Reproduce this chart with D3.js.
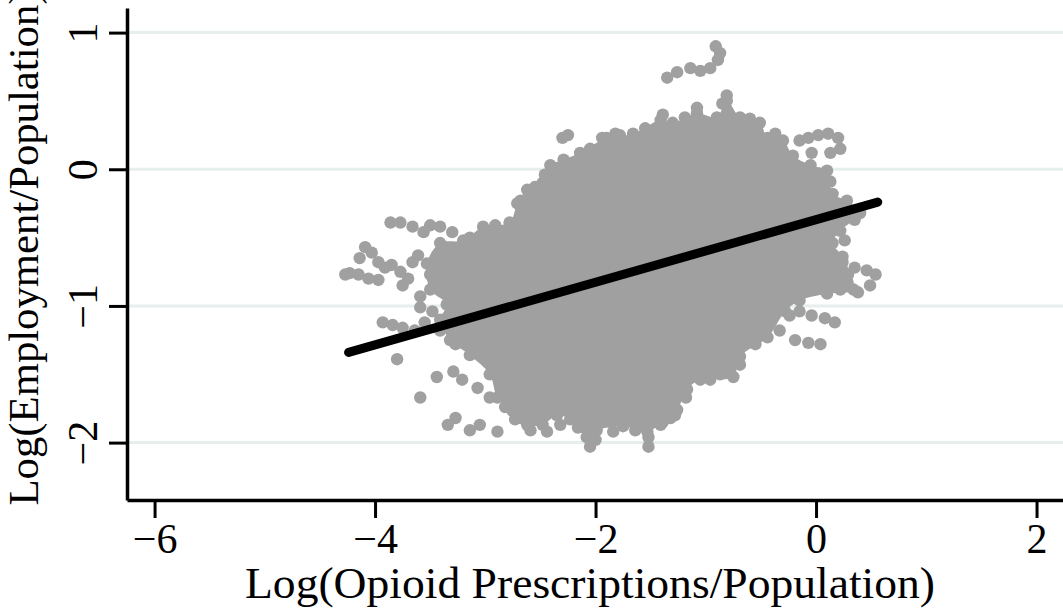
<!DOCTYPE html>
<html>
<head>
<meta charset="utf-8">
<script src="https://cdn.jsdelivr.net/npm/d3@7"></script>
<style>
  html, body { margin: 0; padding: 0; background: #fff; }
  svg { display: block; }
  text { font-family: "Liberation Serif", "DejaVu Serif", serif; fill: #000; }
</style>
</head>
<body>
<svg id="chart" width="1063" height="612"></svg>
<script>
// Log(opioid prescriptions / population) vs log(employment / population)

const xTicks = [-6, -4, -2, 0, 2];
const yTicks = [-2, -1, 0, 1];
const xTitle = "Log(Opioid Prescriptions/Population)";
const yTitle = "Log(Employment/Population)";

// Outline of the dense core of county observations [x, y]
const coreX = [-3.53,-3.41,-3.20,-3.02,-2.78,-2.71,-2.62,-2.48,-2.41,-2.29,-2.14,-1.90,-1.66,-1.41,-1.30,-1.08,-0.90,-0.81,-0.69,-0.51,-0.44,-0.30,-0.21,-0.05,0.10,0.15,0.28,0.40,0.22,0.15,0.24,0.34,0.10,-0.15,-0.28,-0.44,-0.69,-0.75,-1.05,-1.17,-1.26,-1.39,-1.53,-1.75,-1.99,-2.08,-2.23,-2.35,-2.48,-2.62,-2.75,-2.89,-2.96,-3.14,-3.32,-3.41,-3.35,-3.50];
const coreY = [-0.69,-0.54,-0.52,-0.42,-0.39,-0.25,-0.15,-0.10,0.03,0.07,0.12,0.23,0.26,0.36,0.34,0.41,0.38,0.50,0.38,0.34,0.23,0.21,0.10,0.03,-0.01,-0.18,-0.23,-0.32,-0.45,-0.54,-0.64,-0.88,-0.91,-0.96,-1.04,-1.23,-1.37,-1.52,-1.54,-1.61,-1.76,-1.85,-1.92,-1.88,-1.91,-1.96,-1.83,-1.80,-1.87,-1.87,-1.77,-1.67,-1.50,-1.36,-1.25,-1.10,-0.99,-0.88];

// Individual observations around the edges of the cloud
const edgeX = [
  -1.35,-1.26,-1.14,-1.05,-0.96,-0.89,-0.87,-0.91,-2.30,-2.25,
  -1.39,-1.08,-0.81,-0.85,-1.82,-1.94,-2.46,-2.68,
  -3.14,-2.91,-2.55,-2.05,-1.78,-1.55,-1.19,-0.60,-0.37,
  -0.15,-0.07,0.02,0.11,0.20,0.22,0.13,-0.04,
  0.26,0.35,0.13,0.26,0.29,
  0.24,0.35,0.46,0.54,0.49,0.38,0.22,
  -0.24,-0.15,-0.04,0.08,0.17,0.04,-0.07,-0.19,-0.33,
  -0.55,-0.96,-1.32,-2.16,-2.68,
  -0.69,-0.87,-1.18,-1.28,-1.41,-1.52,-1.52,-1.64,-1.84,-2.05,-2.00,
  -2.32,-2.44,-2.59,-2.73,-2.89,-3.05,-3.14,-3.27,-3.34,
  -3.44,-3.29,-3.21,-3.07,-2.96,-2.82,-3.59,-3.80,
  -3.93,-3.84,-3.75,-3.64,-3.55,-3.59,-3.48,-3.41,-3.27,
  -3.86,-3.77,-3.66,-3.56,-3.50,-3.41,-3.30,-4.09,-4.03,-3.97,-3.91,-4.14,-4.23,-4.15,-4.06,-3.97,-4.27,-3.85,-3.77,-3.70,-3.66,-3.75,-3.59,-3.50,-3.61
];
const edgeY = [
  0.67,0.71,0.74,0.72,0.74,0.80,0.85,0.90,0.23,0.25,
  0.40,0.45,0.54,0.48,0.26,0.23,-0.04,-0.23,
  -0.50,-0.41,-0.13,0.15,0.25,0.30,0.38,0.37,0.26,
  0.21,0.23,0.25,0.26,0.23,0.15,0.12,0.12,
  -0.30,-0.37,-0.09,-0.52,-0.77,
  -0.68,-0.72,-0.74,-0.77,-0.85,-0.90,-0.88,
  -1.07,-1.04,-1.07,-1.09,-1.12,-1.28,-1.27,-1.25,-1.18,
  -1.28,-1.54,-1.82,-1.89,-1.82,
  -1.43,-1.50,-1.67,-1.80,-1.87,-1.96,-2.03,-1.91,-1.92,-2.03,-1.98,
  -1.87,-1.92,-1.91,-1.83,-1.92,-1.87,-1.91,-1.82,-1.87,
  -1.52,-1.48,-1.54,-1.60,-1.67,-1.74,-1.67,-1.39,
  -1.12,-1.14,-1.16,-1.18,-1.12,-1.01,-1.04,-1.18,-1.28,
  -0.39,-0.39,-0.42,-0.46,-0.41,-0.42,-0.46,-0.57,-0.61,-0.68,-0.72,-0.65,-0.76,-0.77,-0.80,-0.81,-0.77,-0.70,-0.75,-0.80,-0.68,-0.85,-0.93,-0.77,-0.63
];

// Fitted regression line endpoints
const fitX = [-4.24, 0.56];
const fitY = [-1.34, -0.24];

const svg = d3.select("#chart");

const x = d3.scaleLinear().domain([-6.25, 2.24]).range([127, 1063]);
const y = d3.scaleLinear().domain([-2.42, 1.18]).range([500, 8]);

const gray = "#a0a0a0";

// horizontal grid lines
svg.append("g")
  .selectAll("line")
  .data(yTicks)
  .join("line")
  .attr("x1", x(-6.25)).attr("x2", x(2.24))
  .attr("y1", d => y(d)).attr("y2", d => y(d))
  .attr("stroke", "#e6eeee")
  .attr("stroke-width", 3);

// scatter cloud
const core = coreX.map((v, i) => [v, coreY[i]]);
const edge = edgeX.map((v, i) => [v, edgeY[i]]);

svg.append("path")
  .datum(core)
  .attr("d", d3.line().x(d => x(d[0])).y(d => y(d[1])).curve(d3.curveCatmullRomClosed))
  .attr("fill", gray);

svg.append("g")
  .selectAll("circle")
  .data(core.concat(edge))
  .join("circle")
  .attr("cx", d => x(d[0]))
  .attr("cy", d => y(d[1]))
  .attr("r", 6.2)
  .attr("fill", gray);

// fitted line
svg.append("line")
  .attr("x1", x(fitX[0])).attr("y1", y(fitY[0]))
  .attr("x2", x(fitX[1])).attr("y2", y(fitY[1]))
  .attr("stroke", "#000")
  .attr("stroke-width", 9)
  .attr("stroke-linecap", "round");

// axes
const fmt = d => d3.format("")(d).replace("-", "\u2212");
const xAxis = svg.append("g")
  .attr("transform", `translate(0,${y(-2.42)})`)
  .call(d3.axisBottom(x).tickValues(xTicks).tickSize(18).tickSizeOuter(0).tickFormat(fmt));
const yAxis = svg.append("g")
  .attr("transform", `translate(${x(-6.25)},0)`)
  .call(d3.axisLeft(y).tickValues(yTicks).tickSize(18).tickSizeOuter(0).tickFormat(fmt));

[xAxis, yAxis].forEach(g => {
  g.select(".domain").attr("stroke", "#000").attr("stroke-width", 3.5);
  g.selectAll(".tick line").attr("stroke", "#000").attr("stroke-width", 3);
  g.selectAll(".tick text")
    .attr("font-family", "Liberation Serif, serif")
    .attr("font-size", 42)
    .attr("fill", "#000");
});

xAxis.selectAll(".tick text").attr("y", 23).attr("dy", "0.71em");
yAxis.selectAll(".tick text")
  .attr("x", null).attr("dy", null)
  .attr("text-anchor", "middle")
  .attr("transform", "translate(-30,0) rotate(-90)");

// axis titles
svg.append("text")
  .attr("x", 590).attr("y", 598)
  .attr("text-anchor", "middle")
  .attr("font-size", 44)
  .attr("textLength", 690)
  .attr("lengthAdjust", "spacingAndGlyphs")
  .text(xTitle);

svg.append("text")
  .attr("transform", "translate(38,248) rotate(-90)")
  .attr("text-anchor", "middle")
  .attr("font-size", 42)
  .attr("textLength", 515)
  .attr("lengthAdjust", "spacingAndGlyphs")
  .text(yTitle);
</script>
</body>
</html>
